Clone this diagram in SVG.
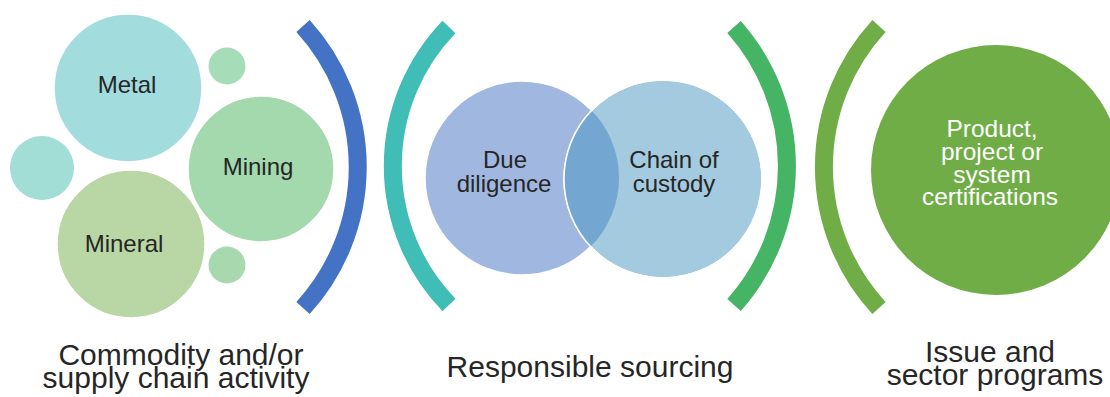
<svg xmlns="http://www.w3.org/2000/svg" width="1110" height="397" viewBox="0 0 1110 397">
<style>
.lbl{font-family:"Liberation Sans",Arial,sans-serif;font-size:24px;fill:#262626;text-anchor:middle}
.cap{font-family:"Liberation Sans",Arial,sans-serif;font-size:30px;fill:#262626;text-anchor:middle}
.wht{font-family:"Liberation Sans",Arial,sans-serif;font-size:24.5px;fill:#ffffff;text-anchor:middle}
.arc{fill:none;stroke-width:18;stroke-linecap:butt}
.bub{stroke:#ffffff;stroke-width:1.5}
</style>
<defs>
<clipPath id="clipDue"><circle cx="522" cy="178" r="97"/></clipPath>
</defs>
<rect width="1110" height="397" fill="#ffffff"/>

<g id="bubbles">
<g id="metal"><circle class="bub" cx="128" cy="88" r="74" fill="#A2DCDC"/><text class="lbl" x="127" y="93">Metal</text></g>
<g id="dot-top"><circle cx="227" cy="66" r="18.5" fill="#A6DCB8"/></g>
<g id="dot-left"><circle cx="42" cy="168" r="32" fill="#A2DDD6"/></g>
<g id="mining"><circle class="bub" cx="261" cy="169" r="73" fill="#A3D9AC"/><text class="lbl" x="258" y="175">Mining</text></g>
<g id="mineral"><circle class="bub" cx="131" cy="244" r="74" fill="#B9D7A5"/><text class="lbl" x="124" y="252">Mineral</text></g>
<g id="dot-bottom"><circle cx="227" cy="265" r="18.5" fill="#A8D9AE"/></g>
</g>

<g id="venn">
<g id="due"><circle cx="522" cy="178" r="97" fill="#A0B7E0" stroke="#ffffff" stroke-width="1.5"/></g>
<g id="chain"><circle cx="663" cy="179" r="99" fill="#A3CADF" stroke="#ffffff" stroke-width="1.5"/></g>
<g id="overlap"><circle cx="663" cy="179" r="99" fill="#73A6D1" clip-path="url(#clipDue)"/>
<circle cx="663" cy="179" r="99" fill="none" stroke="#ffffff" stroke-width="1.5"/></g>
<text class="lbl" x="505" y="168">Due</text>
<text class="lbl" x="504" y="192">diligence</text>
<text class="lbl" x="674" y="168">Chain of</text>
<text class="lbl" x="674" y="192">custody</text>
</g>

<g id="cert">
<circle cx="996" cy="170" r="125" fill="#70AD47"/>
<text class="wht" x="992" y="137">Product,</text>
<text class="wht" x="992" y="160">project or</text>
<text class="wht" x="992" y="183">system</text>
<text class="wht" x="990" y="205">certifications</text>
</g>

<g id="connectors">
<path class="arc" stroke="#4472C4" d="M 303 26 A 209 209 0 0 1 303 308"/>
<path class="arc" stroke="#3FBDB6" d="M 449 27 A 200 200 0 0 0 449 305"/>
<path class="arc" stroke="#45B565" d="M 734 27 A 209 209 0 0 1 734 305"/>
<path class="arc" stroke="#70AD47" d="M 879 26 A 208 208 0 0 0 879 308"/>
</g>

<g id="captions">
<text class="cap" x="181" y="365">Commodity and/or</text>
<text class="cap" x="176" y="388">supply chain activity</text>
<text class="cap" x="590" y="377">Responsible sourcing</text>
<text class="cap" x="990" y="362">Issue and</text>
<text class="cap" x="995" y="385">sector programs</text>
</g>
</svg>
